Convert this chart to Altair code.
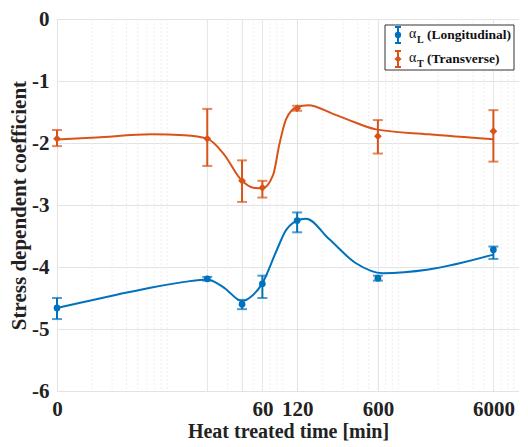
import altair as alt
import pandas as pd

# Data (time "0" is drawn at 1 on the log axis)
x_pts = [1, 20, 40, 60, 120, 600, 6000]
long_y = [-4.66, -4.19, -4.60, -4.27, -3.25, -4.18, -3.72]
long_lo = [-4.84, -4.22, -4.68, -4.50, -3.44, -4.22, -3.87]
long_hi = [-4.50, -4.16, -4.53, -4.14, -3.12, -4.14, -3.67]
trans_y = [-1.93, -1.93, -2.61, -2.72, -1.44, -1.89, -1.81]
trans_lo = [-2.05, -2.37, -2.95, -2.88, -1.48, -2.17, -2.30]
trans_hi = [-1.79, -1.45, -2.28, -2.61, -1.40, -1.63, -1.47]

# fitted smooth curves
trans_curve_x = [1, 2.2, 6.6, 12.7, 20, 27.6, 40, 50, 60, 74.5, 84, 96.5, 120, 150, 245, 318, 577, 1650, 6000]
trans_curve_y = [-1.945, -1.91, -1.86, -1.875, -1.93, -2.17, -2.61, -2.72, -2.73, -2.51, -2.03, -1.61, -1.42, -1.39, -1.53, -1.61, -1.78, -1.86, -1.94]
long_curve_x = [1, 1.74, 3.43, 6.6, 12.7, 20, 28.2, 40, 46.3, 60, 79, 96.5, 130, 143.6, 227, 388, 663, 1650, 6000]
long_curve_y = [-4.66, -4.56, -4.44, -4.33, -4.24, -4.20, -4.34, -4.55, -4.50, -4.26, -3.75, -3.40, -3.23, -3.22, -3.55, -3.94, -4.10, -4.04, -3.80]

x_ticks = [1, 20, 40, 60, 120, 600, 6000]
y_ticks = [-6, -5, -4, -3, -2, -1, 0]
minor_grid_x = [m * 10 ** k for k in range(4) for m in range(2, 10)]

series = ["L", "T"]
colors = ["#0072BD", "#D95319"]

pts = pd.DataFrame({
    "x": x_pts * 2,
    "y": long_y + trans_y,
    "lo": long_lo + trans_lo,
    "hi": long_hi + trans_hi,
    "s": ["L"] * len(x_pts) + ["T"] * len(x_pts),
})
curves = pd.DataFrame({
    "x": long_curve_x + trans_curve_x,
    "y": long_curve_y + trans_curve_y,
    "s": ["L"] * len(long_curve_x) + ["T"] * len(trans_curve_x),
})
minor = pd.DataFrame({"x": minor_grid_x})

FONT = "Liberation Serif"
W, H = 462, 372

xscale = alt.Scale(type="log", domain=[1, 10000], nice=False)
yscale = alt.Scale(domain=[-6, 0], nice=False)
cscale = alt.Scale(domain=series, range=colors)

x_axis = alt.Axis(
    values=x_ticks,
    labelExpr="datum.value == 1 ? '0' : (datum.value == 20 || datum.value == 40) ? '' : format(datum.value, 'd')",
    title="Heat treated time [min]",
    grid=True, gridColor="#e3e3e3", ticks=False, labelPadding=7,
    labelFont=FONT, labelFontSize=21, labelFontWeight="bold", labelColor="#222",
    titleFont=FONT, titleFontSize=20, titleFontWeight="bold", titleColor="#222",
    titlePadding=2, domain=False, labelFlush=False,
)
y_axis = alt.Axis(
    values=y_ticks, title="Stress dependent coefficient",
    labelExpr="datum.value == 0 ? '0' : '-' + toString(abs(datum.value))",
    grid=True, gridColor="#e3e3e3", ticks=False, labelPadding=8,
    labelFont=FONT, labelFontSize=21, labelFontWeight="bold", labelColor="#222",
    titleFont=FONT, titleFontSize=21, titleFontWeight="bold", titleColor="#222",
    titlePadding=2, domain=False,
)

minor_grid = alt.Chart(minor).mark_rule(color="#eeeeee", strokeWidth=1, strokeDash=[2, 2]).encode(
    x=alt.X("x:Q", scale=xscale, axis=x_axis),
)

base = alt.Chart(pts)
lines = alt.Chart(curves).mark_line(interpolate="monotone", strokeWidth=2).encode(
    x=alt.X("x:Q", scale=xscale),
    y=alt.Y("y:Q", scale=yscale, axis=y_axis),
    color=alt.Color("s:N", scale=cscale, legend=None),
)
err = base.mark_rule(strokeWidth=2).encode(
    x=alt.X("x:Q", scale=xscale),
    y=alt.Y("lo:Q", scale=yscale),
    y2="hi:Q",
    color=alt.Color("s:N", scale=cscale, legend=None),
)
cap_lo = base.mark_tick(orient="horizontal", size=10, thickness=2).encode(
    x=alt.X("x:Q", scale=xscale),
    y=alt.Y("lo:Q", scale=yscale),
    color=alt.Color("s:N", scale=cscale, legend=None),
)
cap_hi = base.mark_tick(orient="horizontal", size=10, thickness=2).encode(
    x=alt.X("x:Q", scale=xscale),
    y=alt.Y("hi:Q", scale=yscale),
    color=alt.Color("s:N", scale=cscale, legend=None),
)
markers = base.mark_point(filled=True, opacity=1).encode(
    x=alt.X("x:Q", scale=xscale),
    y=alt.Y("y:Q", scale=yscale),
    color=alt.Color("s:N", scale=cscale, legend=None),
    shape=alt.Shape("s:N", scale=alt.Scale(domain=series, range=["circle", "diamond"]), legend=None),
    size=alt.Size("s:N", scale=alt.Scale(domain=series, range=[45, 60]), legend=None),
)

# custom legend (box with error-bar symbols and subscripted labels)
one = pd.DataFrame({"a": [0]})
lx0, lx1, ly0, ly1 = 328, 457, 6, 51
rows = [16, 40]
leg = [alt.Chart(one).mark_rect(fill="white", stroke="#333", strokeWidth=1).encode(
    x=alt.value(lx0), x2=alt.value(lx1), y=alt.value(ly0), y2=alt.value(ly1))]
names = ["(Longitudinal)", "(Transverse)"]
shapes = ["circle", "diamond"]
sizes = [40, 50]
for i in range(2):
    yy = rows[i]
    c = colors[i]
    sx = 341
    leg.append(alt.Chart(one).mark_rule(color=c, strokeWidth=2).encode(
        x=alt.value(sx), y=alt.value(yy - 8), y2=alt.value(yy + 8)))
    leg.append(alt.Chart(one).mark_rule(color=c, strokeWidth=2).encode(
        x=alt.value(sx - 3), x2=alt.value(sx + 3), y=alt.value(yy - 8)))
    leg.append(alt.Chart(one).mark_rule(color=c, strokeWidth=2).encode(
        x=alt.value(sx - 3), x2=alt.value(sx + 3), y=alt.value(yy + 8)))
    leg.append(alt.Chart(one).mark_point(filled=True, opacity=1, color=c, shape=shapes[i], size=sizes[i]).encode(
        x=alt.value(sx), y=alt.value(yy)))
    leg.append(alt.Chart(one).mark_text(text="α", font=FONT, fontSize=14, align="left", baseline="middle", color="#111").encode(
        x=alt.value(352), y=alt.value(yy - 1)))
    leg.append(alt.Chart(one).mark_text(text=["L", "T"][i], font=FONT, fontSize=10, fontWeight="bold", align="left", baseline="middle", color="#111").encode(
        x=alt.value(360), y=alt.value(yy + 5)))
    leg.append(alt.Chart(one).mark_text(text=names[i], font=FONT, fontSize=13.5, fontWeight="bold", align="left", baseline="middle", color="#111").encode(
        x=alt.value(370), y=alt.value(yy)))

chart = alt.layer(minor_grid, lines, err, cap_lo, cap_hi, markers, *leg).properties(
    width=W, height=H, background="white",
).configure_view(stroke="#555", strokeWidth=1).configure(padding={"left": 0, "right": 0, "top": 0, "bottom": 0})

chart.save("out.html", embed_options={"renderer": "svg", "actions": False})
